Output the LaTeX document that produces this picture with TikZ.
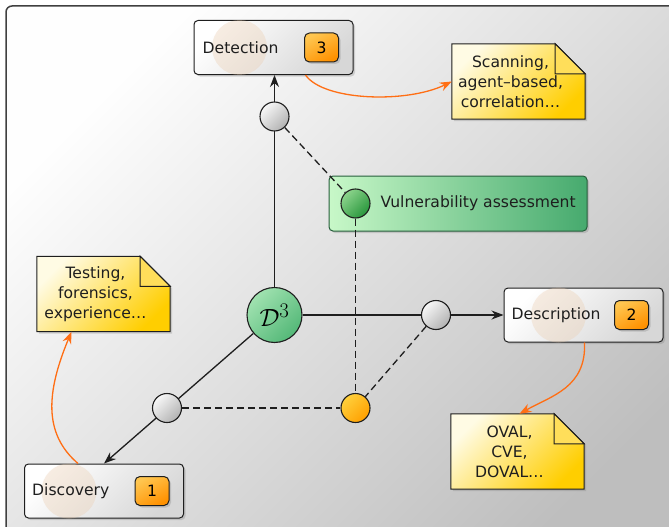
\documentclass[tikz,border=0pt]{standalone}
\usepackage{fontspec}
\setmainfont{DejaVu Sans}
\usetikzlibrary{arrows.meta,shadows,backgrounds}

\definecolor{ink}{RGB}{30,30,30}
\definecolor{boxlo}{RGB}{215,215,215}
\definecolor{badgehi}{RGB}{255,198,80}
\definecolor{badgelo}{RGB}{255,145,0}
\definecolor{notehi}{RGB}{255,251,228}
\definecolor{notelo}{RGB}{255,206,0}
\definecolor{foldcol}{RGB}{255,222,90}
\definecolor{vahi}{RGB}{200,248,200}
\definecolor{valo}{RGB}{70,170,110}
\definecolor{hubhi}{RGB}{160,226,176}
\definecolor{hublo}{RGB}{84,184,120}
\definecolor{ballhi}{RGB}{248,248,248}
\definecolor{balllo}{RGB}{178,178,178}
\definecolor{amberhi}{RGB}{255,208,60}
\definecolor{amberlo}{RGB}{255,160,0}
\definecolor{leafhi}{RGB}{140,212,140}
\definecolor{leaflo}{RGB}{40,150,60}
\definecolor{pointer}{RGB}{255,110,20}
\definecolor{halo}{RGB}{235,205,175}
\definecolor{bghi}{RGB}{254,254,254}
\definecolor{bglo}{RGB}{190,190,190}

\tikzset{
  stagebox/.style={rectangle, rounded corners=4pt, draw=ink, line width=1pt,
    top color=white, bottom color=boxlo, shading angle=45,
    minimum width=159pt, minimum height=54pt,
    drop shadow={shadow xshift=2pt, shadow yshift=-2pt, opacity=.3}},
  badge/.style={rectangle, rounded corners=5pt, draw=ink, line width=1pt,
    top color=badgehi, bottom color=badgelo, shading angle=30,
    minimum width=34pt, minimum height=29pt, inner sep=0pt,
    drop shadow={shadow xshift=2pt, shadow yshift=-2pt, opacity=.3}},
  caption/.style={inner sep=0pt, anchor=west, text=ink},
  vabox/.style={rectangle, rounded corners=4pt, draw=valo!55!black, line width=1pt,
    left color=vahi, right color=valo,
    minimum width=258pt, minimum height=55pt,
    drop shadow={shadow xshift=2pt, shadow yshift=-2pt, opacity=.3}},
  notebox/.style={rectangle, minimum width=117pt, minimum height=75pt,
    inner sep=0pt, align=center, text=ink},
  notepaper/.style={draw=ink, line width=1pt, top color=notehi, bottom color=notelo,
    shading angle=45,
    drop shadow={shadow xshift=2pt, shadow yshift=-2pt, opacity=.3}},
  notefold/.style={draw=ink, line width=1pt, fill=foldcol},
  ball/.style={circle, draw=ink, line width=1.1pt, minimum size=29pt, inner sep=0pt,
    top color=ballhi, bottom color=balllo, shading angle=45},
  amberball/.style={ball, top color=amberhi, bottom color=amberlo, shading angle=45},
  leafball/.style={ball, top color=leafhi, bottom color=leaflo, shading angle=45},
  hub/.style={circle, draw=ink, line width=1.1pt, minimum size=55pt, inner sep=0pt,
    top color=hubhi, bottom color=hublo, shading angle=45,
    font=\fontsize{31}{31}\selectfont},
  axis/.style={draw=ink, line width=1.3pt},
  guide/.style={draw=ink, line width=1.3pt, dash pattern=on 7pt off 4pt},
  tip/.style={-{Stealth[length=12pt,width=9pt]}},
  pointerline/.style={draw=pointer, line width=1.3pt, tip},
}

\newcommand\notepaper[1]{%
  \path [notepaper] (#1.south west) -- (#1.north west) -- ([xshift=-14pt]#1.north east)
    -- ([xshift=16pt,yshift=-30pt]#1.north east) -- ([xshift=16pt]#1.south east) -- cycle;
  \path [notefold] ([xshift=-14pt]#1.north east) -- ([xshift=-14pt,yshift=-30pt]#1.north east)
    -- ([xshift=16pt,yshift=-30pt]#1.north east) -- cycle;}

\begin{document}
\begin{tikzpicture}[x=1pt, y=-1pt, font=\fontsize{15.6}{20}\selectfont, line join=round]
\useasboundingbox (0,0) rectangle (669,527);

\begin{scope}[on background layer]
\path [draw=ink!85, line width=1.5pt, rounded corners=6pt, top color=bghi, bottom color=bglo, shading angle=45] (6,6) rectangle (700,560);
\node (va) [vabox] at (458,203.5) {};
\end{scope}
\node (va-label) [caption] at ([xshift=52pt]va.west) {Vulnerability assessment};

\node (det) [stagebox] at (273.5,47.5) {};
\node (desc) [stagebox] at (583.5,315) {};
\node (disc) [stagebox] at (104,491) {};
\fill [halo, opacity=.35] ([xshift=46pt]det.west) circle [radius=27.5pt];
\fill [halo, opacity=.35] ([xshift=55pt]desc.west) circle [radius=27.5pt];
\fill [halo, opacity=.35] ([xshift=45pt]disc.west) circle [radius=27.5pt];
\node (det-label) [caption] at ([xshift=9pt]det.west) {Detection};
\node (desc-label) [caption] at ([xshift=8pt]desc.west) {Description};
\node (disc-label) [caption] at ([xshift=8pt]disc.west) {Discovery};
\node (det-no) [badge] at ([xshift=-32pt]det.east) {3};
\node (desc-no) [badge] at ([xshift=-32pt]desc.east) {2};
\node (disc-no) [badge] at ([xshift=-32pt]disc.east) {1};

\node (scan) [notebox] at (510.5,81.5) {Scanning,\\agent–based,\\correlation…};
\node (test) [notebox] at (95.5,294) {Testing,\\forensics,\\experience…};
\node (oval) [notebox] at (509.5,451.5) {OVAL,\\CVE,\\DOVAL…};
\begin{scope}[on background layer]
\notepaper{scan}
\notepaper{test}
\notepaper{oval}
\end{scope}

\node (hub) [hub] at (274.5,315) {$\mathcal{D}^3$};
\node (top) [ball] at (274.5,116.5) {};
\node (right) [ball] at (436,315) {};
\node (left) [ball] at (167,408) {};
\node (joint) [amberball] at (355.5,408) {};
\node (va-dot) [leafball] at (355.5,203.5) {};

\begin{scope}[on background layer]
\draw [guide] (top) -- (va-dot);
\draw [guide] (va-dot) -- (joint);
\draw [guide] (right) -- (joint);
\draw [guide] (left) -- (joint);
\draw [axis, tip] (hub) -- (hub |- det.south);
\draw [axis, tip] (hub) -- (hub -| desc.west);
\draw [axis, tip] (hub) -- (disc.north);
\end{scope}

\draw [pointerline] ([xshift=32pt]det.south) .. controls +(18,26) and +(-45,22) .. (scan.west);
\draw [pointerline] ([xshift=1pt]desc.south) .. controls +(2,45) and +(32,-18) .. ([xshift=10pt]oval.north);
\draw [pointerline] ([xshift=-26pt]disc.north) .. controls +(-35,-30) and +(-25,60) .. ([xshift=-24pt]test.south);

\end{tikzpicture}
\end{document}
